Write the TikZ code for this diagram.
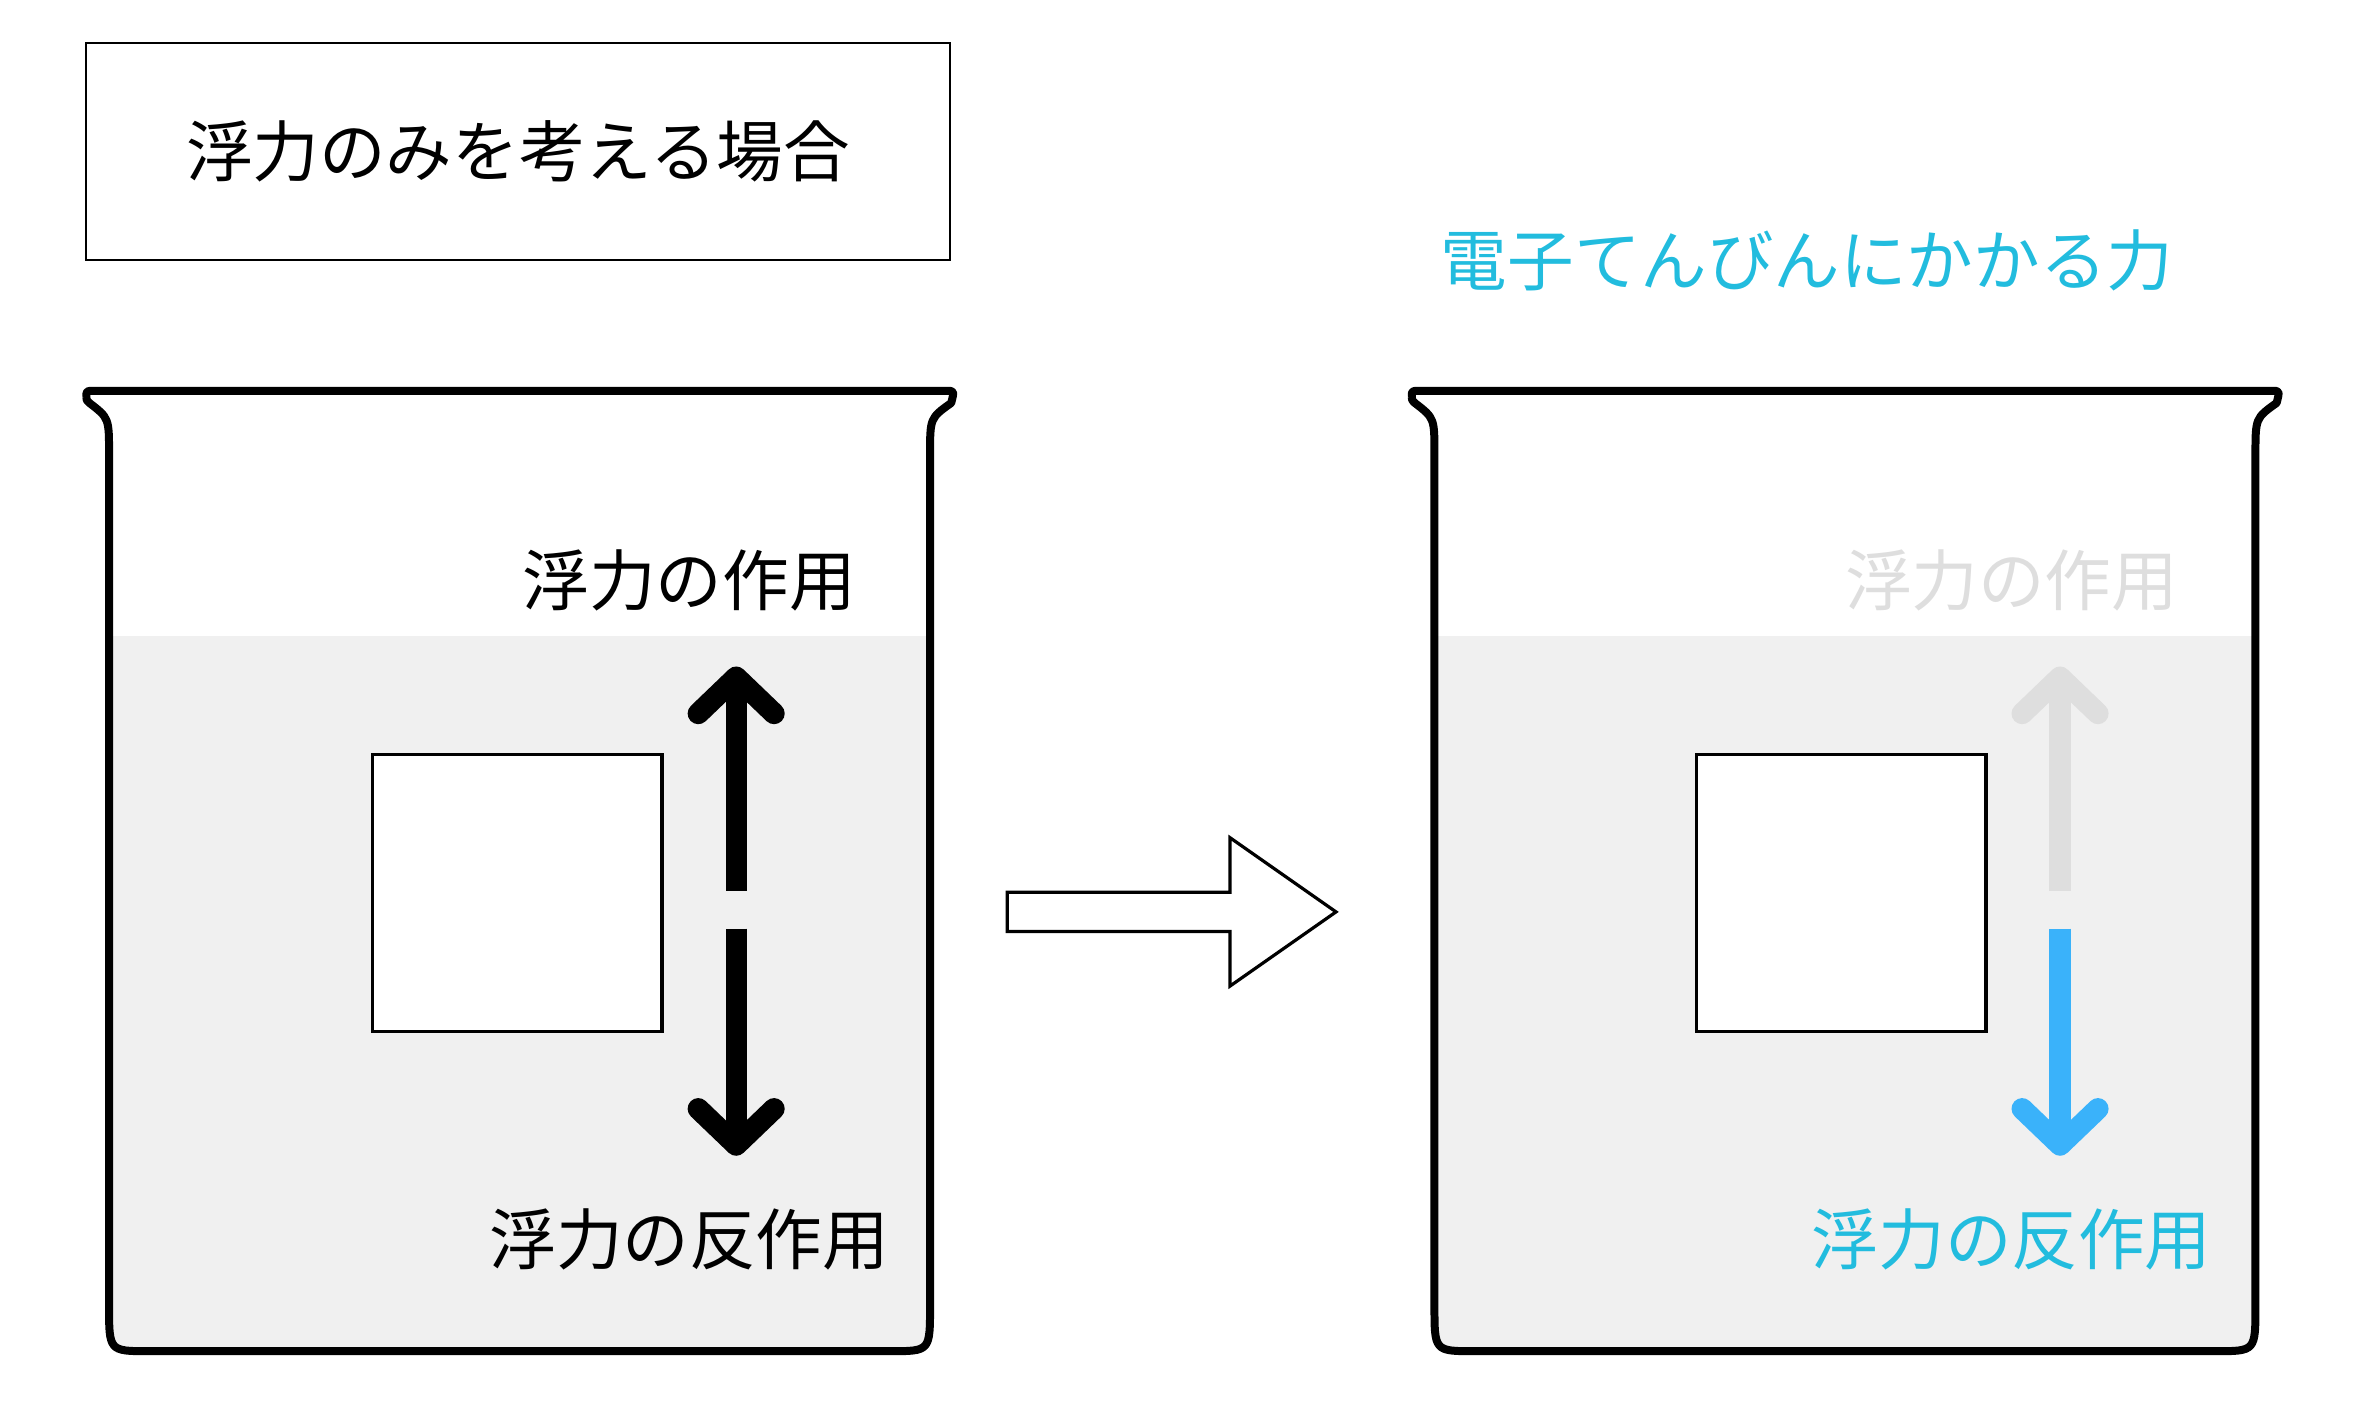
\documentclass[tikz,border=0pt]{standalone}
\usepackage{fontspec}
\setmainfont{Noto Sans CJK JP}
\usetikzlibrary{positioning, arrows.meta}
\definecolor{watergray}{RGB}{240, 240, 240}
\definecolor{titleblue}{RGB}{34, 188, 222}
\definecolor{forceblue}{RGB}{58, 178, 250}
\definecolor{fadegray}{RGB}{222, 222, 222}
\tikzset{
    beaker/.style={line width=1.5pt, line join=round},
    label/.style={font=\fontsize{12.5}{14}\selectfont, inner sep=0pt},
    block/.style={draw, fill=white, line width=0.6pt},
    force/.style={line width=4pt, -{Straight Barb[length=2.4mm, width=5mm, line cap=round, round]}}
}
\newcommand{\beakerpath}[1]{
    (#1+57,262) .. controls (#1+57,258) .. (#1+62,258) -- (#1+625,258)
    .. controls (#1+630,258) .. (#1+628,266) .. controls (#1+614,276) .. (#1+614,300)
    -- (#1+614,862) .. controls (#1+614,892) .. (#1+588,892) -- (#1+98,892)
    .. controls (#1+72,892) .. (#1+72,862) -- (#1+72,300)
    .. controls (#1+72,276) .. (#1+59,266) .. controls (#1+57,264) .. (#1+57,262)
}
\newcommand{\drawbeaker}[1]{
    \begin{scope}
        \clip (0,420) rectangle (1560,900);
        \fill[watergray] \beakerpath{#1};
    \end{scope}
    \draw[beaker] \beakerpath{#1};
}

\begin{document}
\begin{tikzpicture}[x=0.01cm, y=-0.01cm]
                \useasboundingbox (0,0) rectangle (1560,936);
                % Title
                \node[draw, line width=0.5pt, minimum width=5.7cm, minimum height=1.43cm, label] (title) at (342,100) {浮力のみを考える場合};
                \node[label, text=titleblue] (scaletitle) at (1193,172) {電子てんびんにかかる力};
                
                % Beakers
                \drawbeaker{0}
                \drawbeaker{875}
                
                % Left beaker
                \node[block, minimum width=1.91cm, minimum height=1.83cm] (blockL) at (341.5,589.5) {};
                \coordinate (upL0) at (486,588);
                \coordinate (upL1) at (486,440);
                \coordinate (dnL0) at (486,613);
                \coordinate (dnL1) at (486,763);
                \draw[force] (upL0) -- (upL1);
                \draw[force] (dnL0) -- (dnL1);
                \node[label] (actL) at (455,383) {浮力の作用};
                \node[label] (reactL) at (455,818) {浮力の反作用};
                
                % Right beaker
                \node[block, minimum width=1.91cm, minimum height=1.83cm] (blockR) at (1215.5,589.5) {};
                \coordinate (upR0) at (1360,588);
                \coordinate (upR1) at (1360,440);
                \coordinate (dnR0) at (1360,613);
                \coordinate (dnR1) at (1360,763);
                \draw[force, fadegray] (upR0) -- (upR1);
                \draw[force, forceblue] (dnR0) -- (dnR1);
                \node[label, text=fadegray] (actR) at (1328,383) {浮力の作用};
                \node[label, text=titleblue] (reactR) at (1328,818) {浮力の反作用};
                
                % Hollow arrow
                \draw[line width=0.6pt, fill=white] (665,589) -- (812,589) -- (812,553) -- (882,602)
                    -- (812,651) -- (812,615) -- (665,615) -- cycle;
            \end{tikzpicture}
\end{document}
